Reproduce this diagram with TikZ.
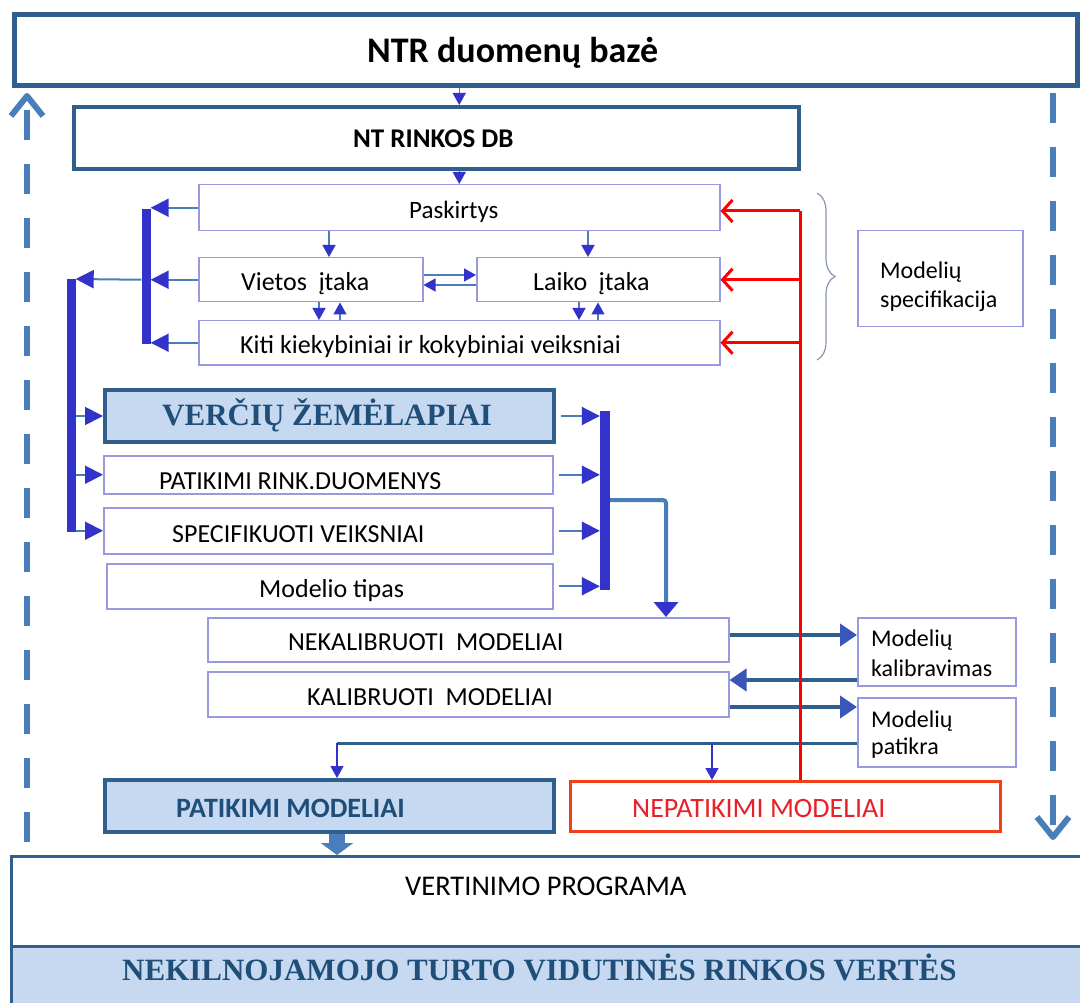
\documentclass[tikz,border=0pt]{standalone}
\usepackage{fontspec}
\setmainfont{Carlito}
\newfontfamily\serifbold{Liberation Serif}
\usetikzlibrary{arrows.meta,decorations.pathreplacing}

\definecolor{darkb}{HTML}{2F5F8F}
\definecolor{steel}{HTML}{4A7EBB}
\definecolor{lightfill}{HTML}{C6D9F1}
\definecolor{tipb}{HTML}{3333CC}
\definecolor{tipm}{HTML}{3A56B8}
\definecolor{thinb}{HTML}{9999E0}
\definecolor{titleb}{HTML}{1F4E79}
\definecolor{redline}{HTML}{FF0000}
\definecolor{redbox}{HTML}{F0401A}
\definecolor{redtext}{HTML}{E8202A}
\definecolor{bracec}{HTML}{8496B0}

\newcommand{\fsz}[1]{\fontsize{#1}{#1}\selectfont}

\tikzset{
  thinbox/.style={draw=thinb, line width=1.5pt, fill=white, inner sep=0pt, anchor=north west},
  darkbox/.style={draw=darkb, line width=4pt, fill=white, inner sep=0pt, anchor=north west},
  lbl/.style={inner sep=0pt, anchor=base west},
  twolines/.style={inner sep=0pt, anchor=west, align=left},
  bar/.style={fill=tipb, inner sep=0pt, minimum width=9pt, anchor=north},
  feed/.style={draw=steel, line width=2pt, -{Triangle[length=18pt,width=18pt,color=tipb]}},
  smallfeed/.style={draw=steel, line width=1.5pt, -{Triangle[length=12pt,width=13pt,color=tipb]}},
  steelfeed/.style={draw=steel, line width=4pt, -{Triangle[length=15pt,width=24pt,color=tipb]}},
  calib/.style={draw=darkb, line width=4pt, -{Triangle[length=17pt,width=22pt,color=tipm]}},
  redarrow/.style={draw=redline, line width=3pt, -{Straight Barb[length=10pt,width=22pt]}},
  returnline/.style={draw=steel, line width=6pt, dash pattern=on 30pt off 24pt,
    -{Straight Barb[length=20pt,width=32pt,line join=round]}},
  blockarrow/.style={draw=steel, line width=16pt, -{Triangle[length=12pt,width=32pt]}}
}

\begin{document}
\begin{tikzpicture}[x=1pt,y=-1pt]
\clip (0,0) rectangle (1080,1003);
\fill[white] (0,0) rectangle (1080,1003);

% data bases
\node[darkbox, line width=5pt, minimum width=1063pt, minimum height=71pt] (ntr) at (12,12) {};
\node[darkbox, minimum width=725pt, minimum height=62pt] (rinkos) at (72,105) {};
\node[lbl] (ntrtext) at (367,63) {\fsz{36}\bfseries NTR duomenų bazė};
\node[lbl] (rinkostext) at (353,148) {\fsz{27}\bfseries NT RINKOS DB};

% specification boxes
\node[thinbox, minimum width=521pt, minimum height=46pt] (pask) at (198,184) {};
\node[thinbox, minimum width=224pt, minimum height=44pt] (vietos) at (198,257) {};
\node[thinbox, minimum width=243pt, minimum height=44pt] (laiko) at (476,257) {};
\node[thinbox, minimum width=521pt, minimum height=44pt] (kiti) at (198,320) {};
\node[thinbox, minimum width=165pt, minimum height=96pt] (spec) at (857,230) {};
\node[lbl] (pasktext) at (409,219) {\fsz{25}Paskirtys};
\node[lbl] (vietostext) at (241,291) {\fsz{26}Vietos\ \ įtaka};
\node[lbl] (laikotext) at (533,291) {\fsz{26}Laiko\ \ įtaka};
\node[lbl] (kititext) at (240,354) {\fsz{26}Kiti kiekybiniai ir kokybiniai veiksniai};
\node[twolines, font=\fontsize{24}{29}\selectfont] (spectext) at (880,287) {Modelių\\specifikacija};

% input boxes
\node[darkbox, fill=lightfill, minimum width=449pt, minimum height=52pt] (verciu) at (103,388) {};
\node[thinbox, minimum width=449pt, minimum height=38pt] (patrink) at (103,455) {};
\node[thinbox, minimum width=449pt, minimum height=46pt] (specv) at (103,507) {};
\node[thinbox, minimum width=446pt, minimum height=45pt] (tipas) at (106,563) {};
\node[lbl] (verciutext) at (162,425) {\fsz{31}\serifbold\bfseries\color{titleb}VERČIŲ ŽEMĖLAPIAI};
\node[lbl] (patrinktext) at (159,489) {\fsz{26}PATIKIMI RINK.DUOMENYS};
\node[lbl] (specvtext) at (172,542) {\fsz{26}SPECIFIKUOTI VEIKSNIAI};
\node[lbl] (tipastext) at (259,597) {\fsz{26}Modelio tipas};

% models
\node[thinbox, minimum width=521pt, minimum height=44pt] (nekal) at (207,617) {};
\node[thinbox, minimum width=521pt, minimum height=45pt] (kal) at (207,671) {};
\node[thinbox, minimum width=158pt, minimum height=68pt] (kalib) at (857,617) {};
\node[thinbox, minimum width=158pt, minimum height=69pt] (patikra) at (857,697) {};
\node[lbl] (nekaltext) at (288,650) {\fsz{26}NEKALIBRUOTI\ \ MODELIAI};
\node[lbl] (kaltext) at (307,705) {\fsz{26}KALIBRUOTI\ \ MODELIAI};
\node[twolines, font=\fontsize{24}{30}\selectfont] (kalibtext) at (871,653) {Modelių\\kalibravimas};
\node[twolines, font=\fontsize{24}{27}\selectfont] (patikratext) at (871,735) {Modelių\\patikra};

\node[darkbox, fill=lightfill, minimum width=449pt, minimum height=52pt] (patik) at (103,778) {};
\node[draw=redbox, line width=3pt, fill=white, inner sep=0pt, anchor=north west,
  minimum width=430pt, minimum height=50pt] (nepat) at (569,780) {};
\node[lbl] (patiktext) at (176,817) {\fsz{28}\bfseries\color{titleb}PATIKIMI MODELIAI};
\node[lbl] (nepattext) at (632,817) {\fsz{28}\color{redtext}NEPATIKIMI MODELIAI};

% program and values
\node[darkbox, line width=2.5pt, minimum width=1074pt, minimum height=90pt] (vert) at (10,855) {};
\node[darkbox, line width=2.5pt, fill=lightfill, minimum width=1074pt, minimum height=62pt] (vals) at (10,945) {};
\node[lbl] (verttext) at (405,895) {\fsz{28.5}VERTINIMO PROGRAMA};
\node[lbl] (valstext) at (122,980) {\fsz{31}\serifbold\bfseries\color{titleb}NEKILNOJAMOJO TURTO VIDUTINĖS RINKOS VERTĖS};

% collecting bars
\node[bar, minimum height=135pt] (bar1) at (146,209) {};
\node[bar, minimum height=253pt] (bar2) at (71,279) {};
\node[bar, minimum width=10pt, minimum height=179pt] (bar3) at (605,411) {};

% top feeds
\draw[smallfeed] (pask.north |- ntr.south) -- (pask.north |- rinkos.north);
\draw[smallfeed] (pask.north |- rinkos.south) -- (pask.north);

\draw[smallfeed] (pask.south -| 329,0) -- (vietos.north -| 329,0);
\draw[smallfeed] (pask.south -| 588,0) -- (laiko.north -| 588,0);
\draw[smallfeed] (vietos.south -| 319,0) -- (kiti.north -| 319,0);
\draw[smallfeed] (kiti.north -| 340,0) -- (vietos.south -| 340,0);
\draw[smallfeed] (laiko.south -| 579,0) -- (kiti.north -| 579,0);
\draw[smallfeed] (kiti.north -| 598,0) -- (laiko.south -| 598,0);
\draw[smallfeed] (vietos.east |- 0,275) -- (laiko.west |- 0,275);
\draw[smallfeed] (laiko.west |- 0,285) -- (vietos.east |- 0,285);

% into the bars
\draw[feed] (pask.west) -- (pask.west -| bar1.east);
\draw[feed] (vietos.west) -- (vietos.west -| bar1.east);
\draw[feed] (kiti.west) -- (kiti.west -| bar1.east);
\draw[feed] (bar1.west |- vietos.west) -- (bar2.north east);
\foreach \n in {verciu,patrink,specv}
  \draw[feed] (bar2.east |- \n.west) -- (\n.west);
\foreach \n in {verciu,patrink,specv,tipas}
  \draw[feed, shorten <=5pt] (\n.east) -- (\n.east -| bar3.west);
\draw[steelfeed, rounded corners=3pt] (bar3.east |- 0,500) -| (nekal.north -| 666,0);

% calibration
\draw[calib] (nekal.east |- 0,635) -- (kalib.west |- 0,635);
\draw[calib] (kalib.west |- 0,680) -- (kal.east |- 0,680);
\draw[calib] (kal.east |- 0,707) -- (patikra.west |- 0,707);

\coordinate (split) at (337,743);
\draw[darkb, line width=3pt] (patikra.west |- split) -- (split);
\draw[smallfeed, draw=tipb] (split) -- (split |- patik.north);
\draw[smallfeed, draw=tipb] (split -| 712,0) -- (nepat.north -| 712,0);

% unreliable models go back
\coordinate (redtop) at (800,211);
\draw[redline, line width=3pt] (nepat.north -| redtop) -- (redtop);
\draw[redarrow] (redtop) -- (redtop -| pask.east);
\draw[redarrow] (redtop |- laiko.east) -- (laiko.east);
\draw[redarrow] (redtop |- kiti.east) -- (kiti.east);

\draw[bracec, line width=1.2pt, decorate, decoration={brace, amplitude=18pt}] (817,193) -- (817,360);

\draw[blockarrow] (patik.south -| 337,0) -- (vert.north -| 337,0);

% return loop
\draw[returnline] (27,842) -- (27,93);
\draw[returnline] (1053,93) -- (1053,840);

\end{tikzpicture}
\end{document}
